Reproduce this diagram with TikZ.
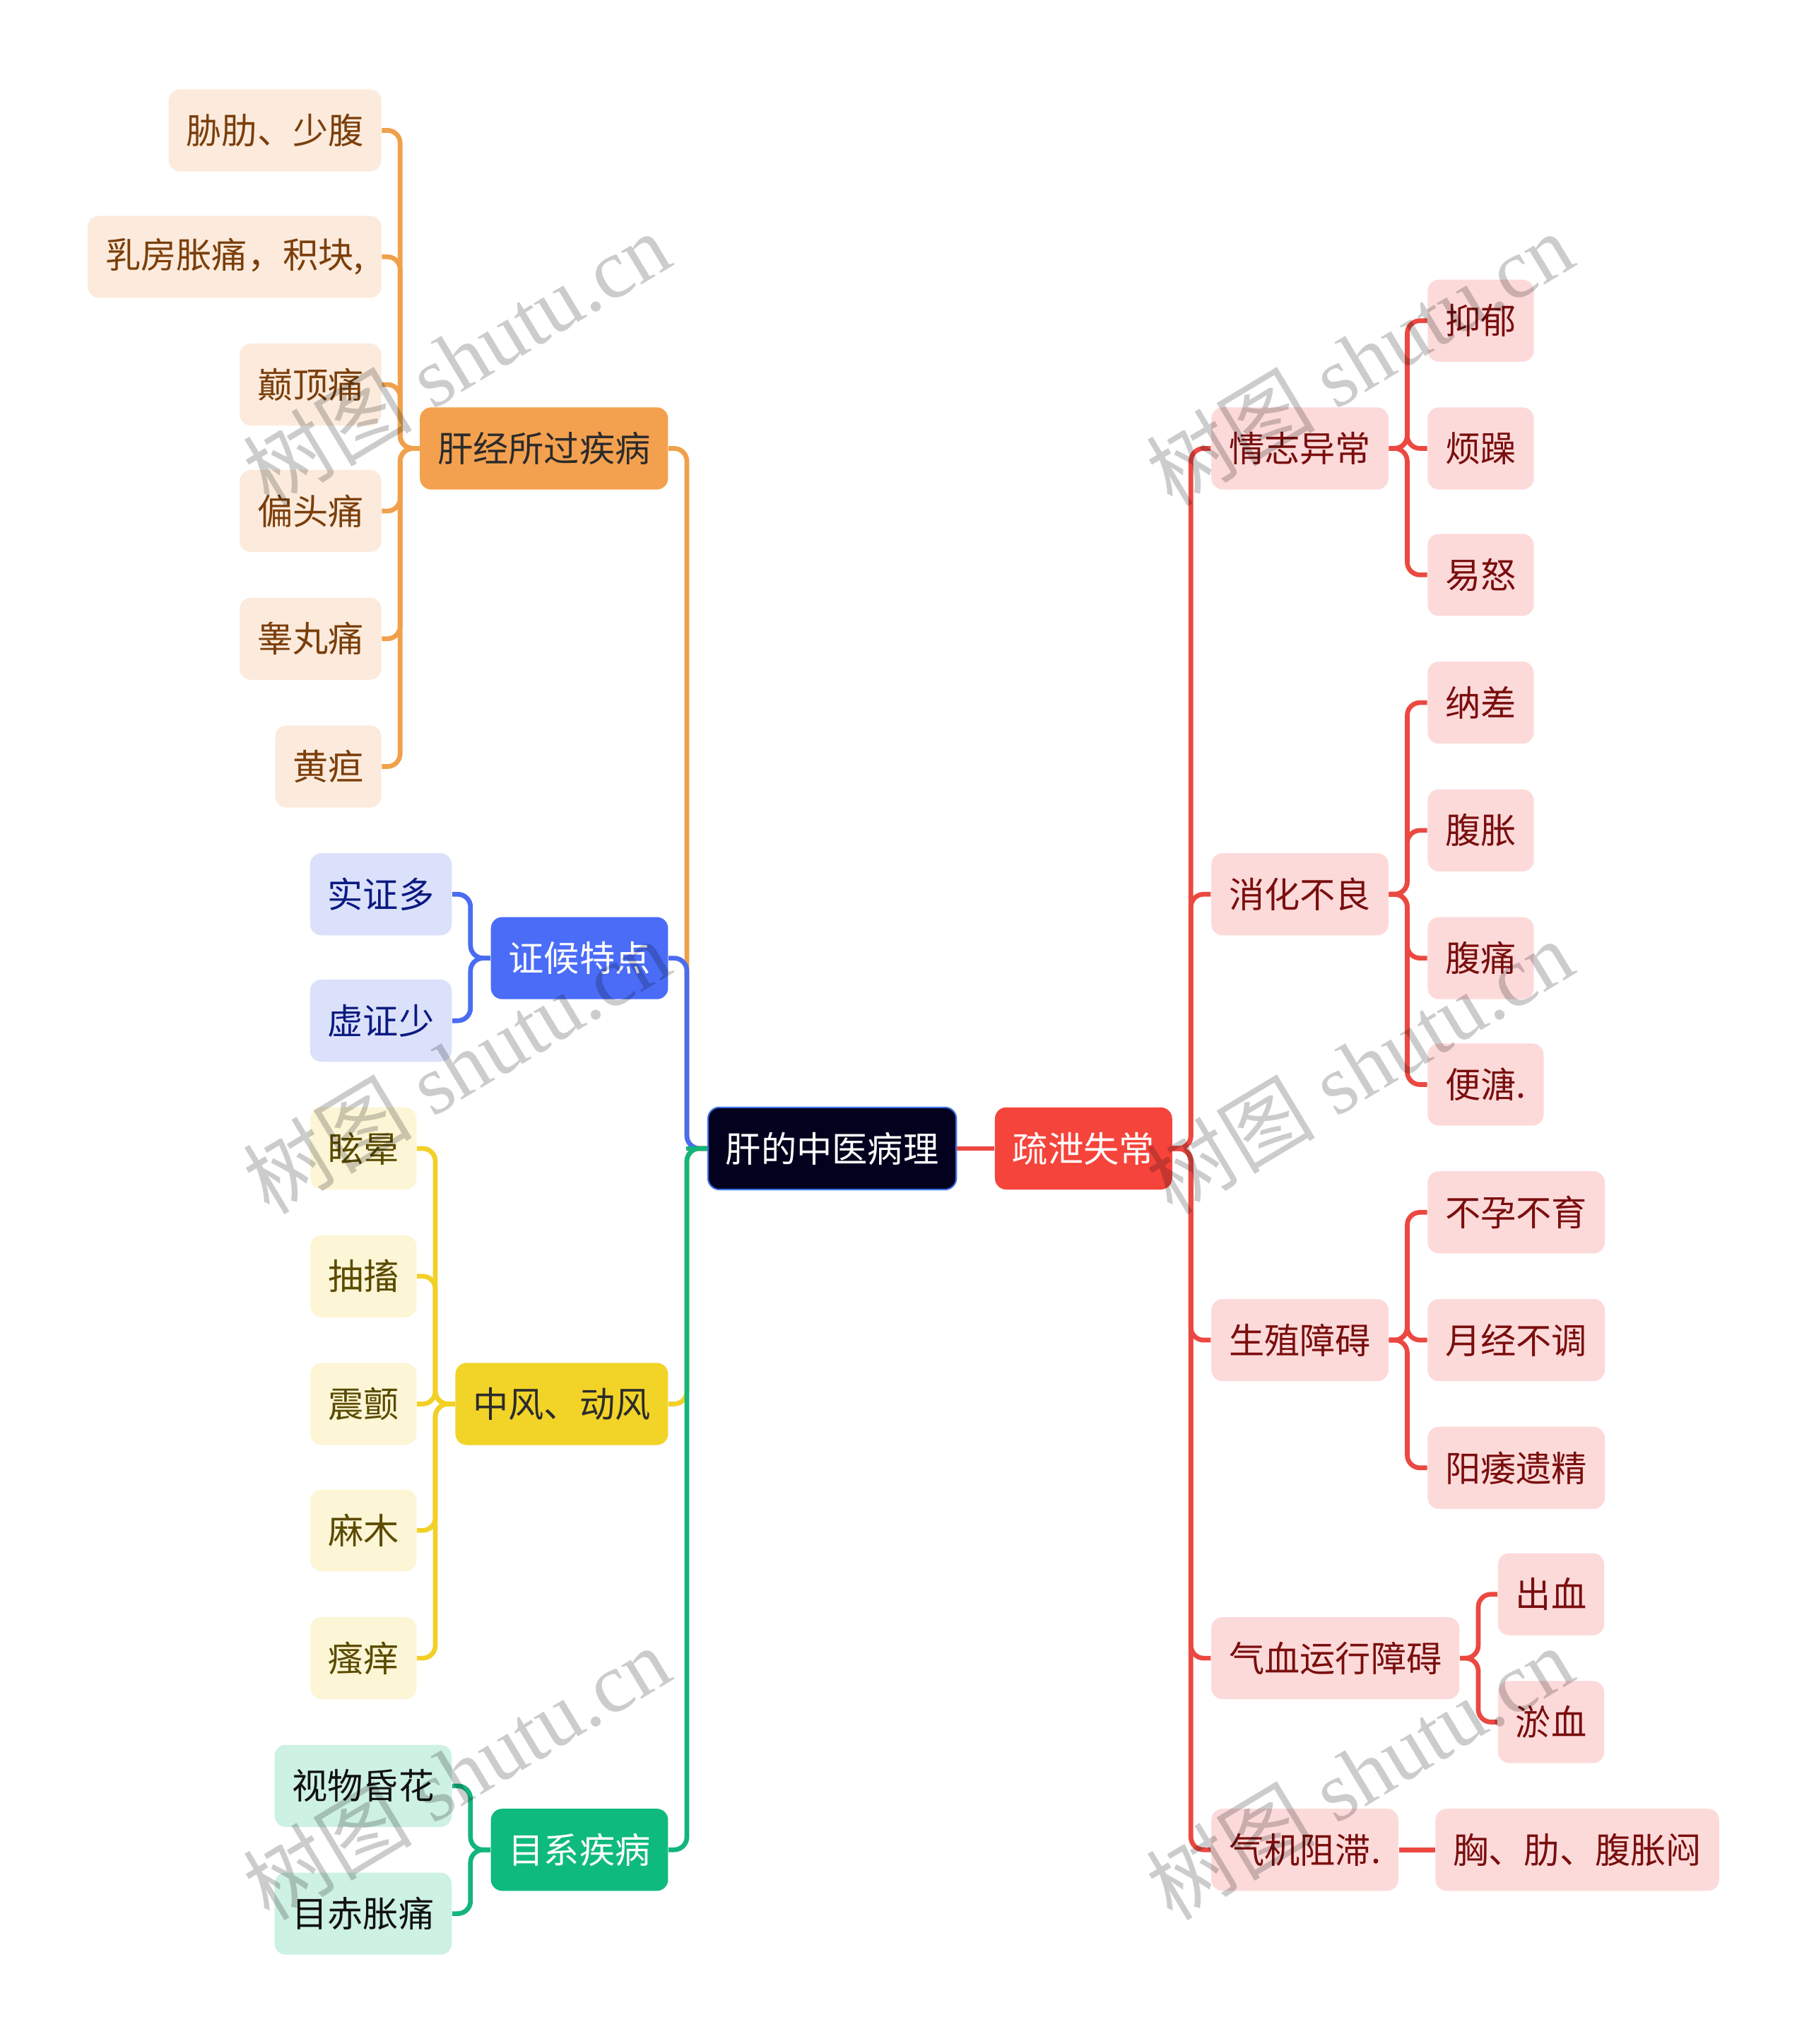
\documentclass[tikz,border=0pt]{standalone}
\usepackage{fontspec}
\newfontfamily\cjk{Noto Sans CJK SC}
\newfontfamily\wmlatin{Liberation Serif}
\definecolor{rootfill}{HTML}{02021E}
\definecolor{rootdraw}{HTML}{3B6FE0}
\definecolor{oline}{HTML}{F0A04B}
\definecolor{ofill}{HTML}{F4A14F}
\definecolor{oleaffill}{HTML}{FCEBDC}
\definecolor{oleaftext}{HTML}{7B3F0C}
\definecolor{bline}{HTML}{4A6CF0}
\definecolor{bfill}{HTML}{4A6CF7}
\definecolor{bleaffill}{HTML}{DBE1FB}
\definecolor{bleaftext}{HTML}{0B1A80}
\definecolor{yline}{HTML}{F2D027}
\definecolor{yfill}{HTML}{F2D327}
\definecolor{yleaffill}{HTML}{FCF6D6}
\definecolor{yleaftext}{HTML}{5B4B00}
\definecolor{gline}{HTML}{13B57C}
\definecolor{gfill}{HTML}{0FBA7D}
\definecolor{gleaffill}{HTML}{CDF1E3}
\definecolor{gleaftext}{HTML}{111111}
\definecolor{rline}{HTML}{EB4841}
\definecolor{rfill}{HTML}{F5443B}
\definecolor{rleaffill}{HTML}{FDDADA}
\definecolor{rleaftext}{HTML}{7A0E0E}
\definecolor{darktext}{HTML}{2B2B2B}
\begin{document}
\begin{tikzpicture}[x=0.018444cm,y=-0.018444cm,
  box/.style={rounded corners=0.16cm, inner xsep=0.249cm, inner ysep=0pt,
    minimum height=1.162cm, font=\cjk\fontsize{14.3}{17}\selectfont},
  rootbox/.style={box, fill=rootfill, draw=rootdraw, line width=0.6pt, text=white},
  obranch/.style={box, fill=ofill, text=darktext},
  oleaf/.style={box, fill=oleaffill, text=oleaftext},
  bbranch/.style={box, fill=bfill, text=white},
  bleaf/.style={box, fill=bleaffill, text=bleaftext},
  ybranch/.style={box, fill=yfill, text=darktext},
  yleaf/.style={box, fill=yleaffill, text=yleaftext},
  gbranch/.style={box, fill=gfill, text=white},
  gleaf/.style={box, fill=gleaffill, text=gleaftext},
  rbranch/.style={box, fill=rfill, text=white},
  rleaf/.style={box, fill=rleaffill, text=rleaftext},
  conn/.style={line width=1.9pt, rounded corners=0.18cm},
  wm/.style={text=black, text opacity=0.2, rotate=31,
    font=\wmlatin\fontsize{34}{40}\selectfont, inner sep=0pt}
]
\useasboundingbox (0,0) rectangle (1388,1568);

% root and main red node
\node[rootbox] (root) at (638.5,881) {肝的中医病理};
\node[rbranch, anchor=west] (sx) at (763,881) {疏泄失常};

% left branches
\node[obranch, anchor=east] (ob) at (513,344) {肝经所过疾病};
\node[bbranch, anchor=east] (bb) at (513,735) {证候特点};
\node[ybranch, anchor=east] (yb) at (513,1077) {中风、动风};
\node[gbranch, anchor=east] (gb) at (513,1419) {目系疾病};

% orange leaves
\node[oleaf, anchor=east] (o1) at (293,100) {胁肋、少腹};
\node[oleaf, anchor=east] (o2) at (293,197) {乳房胀痛，积块,};
\node[oleaf, anchor=east] (o3) at (293,295) {巅顶痛};
\node[oleaf, anchor=east] (o4) at (293,392) {偏头痛};
\node[oleaf, anchor=east] (o5) at (293,490) {睾丸痛};
\node[oleaf, anchor=east] (o6) at (293,588) {黄疸};

% blue leaves
\node[bleaf, anchor=east] (b1) at (347,686) {实证多};
\node[bleaf, anchor=east] (b2) at (347,783) {虚证少};

% yellow leaves
\node[yleaf, anchor=east] (y1) at (320,881) {眩晕};
\node[yleaf, anchor=east] (y2) at (320,979) {抽搐};
\node[yleaf, anchor=east] (y3) at (320,1077) {震颤};
\node[yleaf, anchor=east] (y4) at (320,1174) {麻木};
\node[yleaf, anchor=east] (y5) at (320,1272) {瘙痒};

% green leaves
\node[gleaf, anchor=east] (g1) at (347,1370) {视物昏花};
\node[gleaf, anchor=east] (g2) at (347,1468) {目赤胀痛};

% right sub-branches
\node[rleaf, anchor=west] (r1) at (929,344) {情志异常};
\node[rleaf, anchor=west] (r2) at (929,686) {消化不良};
\node[rleaf, anchor=west] (r3) at (929,1028) {生殖障碍};
\node[rleaf, anchor=west] (r4) at (929,1272) {气血运行障碍};
\node[rleaf, anchor=west] (r5) at (929,1419) {气机阻滞.};

% right leaves
\node[rleaf, anchor=west] (r11) at (1095,246) {抑郁};
\node[rleaf, anchor=west] (r12) at (1095,344) {烦躁};
\node[rleaf, anchor=west] (r13) at (1095,441) {易怒};
\node[rleaf, anchor=west] (r21) at (1095,539) {纳差};
\node[rleaf, anchor=west] (r22) at (1095,637) {腹胀};
\node[rleaf, anchor=west] (r23) at (1095,735) {腹痛};
\node[rleaf, anchor=west] (r24) at (1095,832) {便溏.};
\node[rleaf, anchor=west] (r31) at (1095,930) {不孕不育};
\node[rleaf, anchor=west] (r32) at (1095,1028) {月经不调};
\node[rleaf, anchor=west] (r33) at (1095,1126) {阳痿遗精};
\node[rleaf, anchor=west] (r41) at (1149,1223) {出血};
\node[rleaf, anchor=west] (r42) at (1149,1321) {淤血};
\node[rleaf, anchor=west] (r51) at (1101,1419) {胸、肋、腹胀闷};

% connectors: left main
\draw[conn, oline] (ob.east) -- ++(14,0) |- (root.west);
\draw[conn, bline] (bb.east) -- ++(14,0) |- (root.west);
\draw[conn, yline] (yb.east) -- ++(14,0) |- (root.west);
\draw[conn, gline] (gb.east) -- ++(14,0) |- (root.west);
\draw[conn, gline] (root.west) -- ++(-16,0);

% leaves to branches
\foreach \n in {o1,o2,o3,o4,o5,o6}
  \draw[conn, oline] (\n.east) -- ++(14,0) |- (ob.west);
\foreach \n in {b1,b2}
  \draw[conn, bline] (\n.east) -- ++(14,0) |- (bb.west);
\foreach \n in {y1,y2,y3,y4,y5}
  \draw[conn, yline] (\n.east) -- ++(14,0) |- (yb.west);
\foreach \n in {g1,g2}
  \draw[conn, gline] (\n.east) -- ++(14,0) |- (gb.west);

% right side
\draw[conn, rline] (root.east) -- (sx.west);
\foreach \n in {r1,r2,r3,r4,r5}
  \draw[conn, rline] (sx.east) -- ++(14,0) |- (\n.west);
\foreach \n in {r11,r12,r13}
  \draw[conn, rline] (r1.east) -- ++(14,0) |- (\n.west);
\foreach \n in {r21,r22,r23,r24}
  \draw[conn, rline] (r2.east) -- ++(14,0) |- (\n.west);
\foreach \n in {r31,r32,r33}
  \draw[conn, rline] (r3.east) -- ++(14,0) |- (\n.west);
\foreach \n in {r41,r42}
  \draw[conn, rline] (r4.east) -- ++(14,0) |- (\n.west);
\draw[conn, rline] (r5.east) -- (r51.west);

% watermarks
\node[wm] (wm1) at (350,275) {{\cjk 树图} shutu.cn};
\node[wm] (wm2) at (1043,275) {{\cjk 树图} shutu.cn};
\node[wm] (wm3) at (350,818) {{\cjk 树图} shutu.cn};
\node[wm] (wm4) at (1043,818) {{\cjk 树图} shutu.cn};
\node[wm] (wm5) at (350,1360) {{\cjk 树图} shutu.cn};
\node[wm] (wm6) at (1043,1360) {{\cjk 树图} shutu.cn};
\end{tikzpicture}
\end{document}
